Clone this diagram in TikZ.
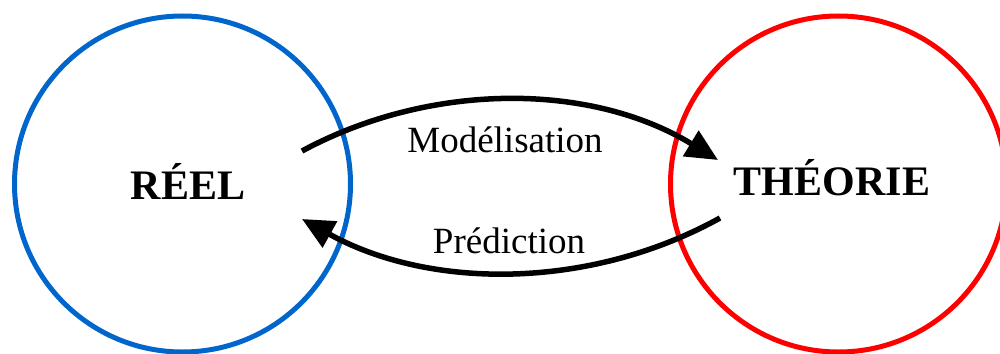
\documentclass[tikz,border=0pt]{standalone}
\usepackage{fontspec}
\setmainfont{Liberation Serif}
\usetikzlibrary{arrows.meta}
\definecolor{reelblue}{HTML}{0066CC}
\definecolor{theored}{HTML}{FF0000}
\begin{document}
\begin{tikzpicture}[x=1pt,y=-1pt,
  ring/.style={circle,draw,line width=5pt,inner sep=0pt,minimum size=336pt},
  bigword/.style={anchor=base,inner sep=0pt,font=\fontsize{42}{46}\selectfont\bfseries},
  smallword/.style={anchor=base,inner sep=0pt,font=\fontsize{37}{40}\selectfont},
  flow/.style={line width=5.5pt,-{Triangle[length=32pt,width=29pt]}}]
\useasboundingbox (0,0) rectangle (1000,353);
\node[ring,draw=reelblue] (reel) at (182.5,184) {};
\node[ring,draw=theored] (theorie) at (838.5,184) {};
\node[bigword] (reeltxt) at (188,199) {RÉEL};
\node[bigword] (theotxt) at (832,195) {THÉORIE};
\coordinate (m1) at (302,151);
\coordinate (m2) at (718,160);
\coordinate (p1) at (720,218);
\coordinate (p2) at (302,219);
\draw[flow] (m1) .. controls (430,82) and (590,82) .. (m2);
\draw[flow] (p1) .. controls (590,290) and (430,290) .. (p2);
\node[smallword] (mod) at (505,152) {Modélisation};
\node[smallword] (pred) at (509,253) {Prédiction};
\end{tikzpicture}
\end{document}
